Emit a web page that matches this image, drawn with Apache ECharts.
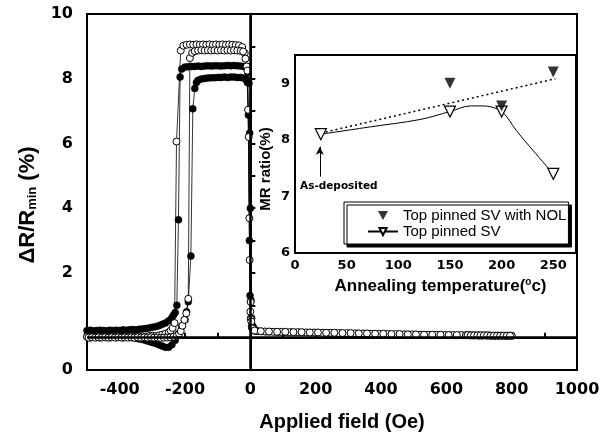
<!DOCTYPE html>
<html><head><meta charset="utf-8">
<script src="https://cdn.jsdelivr.net/npm/echarts@6/dist/echarts.min.js"></script>
<style>html,body{margin:0;padding:0;background:#fff}#c{width:611px;height:437px}</style>
</head><body><div id="c"></div>
<script>
// ---- Main panel: ΔR/Rmin (%) vs applied field (Oe) ----
const filledA = [
[-500,0.22],[-490,0.23],[-480,0.21],[-470,0.22],[-460,0.23],[-450,0.22],[-440,0.21],[-430,0.23],[-420,0.22],[-410,0.23],[-400,0.22],[-390,0.24],[-380,0.23],[-370,0.24],[-360,0.25],[-350,0.24],[-340,0.26],[-330,0.27],[-320,0.28],[-310,0.3],[-300,0.32],[-290,0.34],[-280,0.37],[-270,0.41],[-260,0.45],[-250,0.52],[-240,0.62],[-235,0.7],[-230,0.78],[-225,1.0],[-220,3.64],[-215,8.05],[-210,8.3],[-200,8.36],[-190,8.37],[-180,8.38],[-170,8.38],[-160,8.39],[-150,8.38],[-140,8.39],[-130,8.4],[-120,8.39],[-110,8.4],[-100,8.4],[-90,8.39],[-80,8.4],[-70,8.41],[-60,8.4],[-50,8.41],[-40,8.4],[-30,8.39],[-20,8.38],[-12,8.35],[-7,8.2],[-4,7.86],[-2,6.32],[0,4.0],[2,1.15],[4,0.6],[8,0.35],[14,0.25],[25,0.2],[50,0.18],[75,0.18],[100,0.17],[125,0.17],[150,0.16],[175,0.16],[200,0.15],[225,0.15],[250,0.14],[275,0.14],[300,0.13],[325,0.13],[350,0.12],[375,0.12],[400,0.11],[425,0.11],[450,0.1],[475,0.1],[500,0.09],[525,0.09],[550,0.08],[575,0.08],[600,0.08],[625,0.07],[650,0.07],[675,0.07],[700,0.06],[725,0.06],[750,0.06],[775,0.06],[800,0.05]
];
const filledB = [
[-500,0.05],[-490,0.06],[-480,0.04],[-470,0.05],[-460,0.06],[-450,0.04],[-440,0.05],[-430,0.04],[-420,0.05],[-410,0.04],[-400,0.03],[-390,0.04],[-380,0.02],[-370,0.01],[-360,0.0],[-350,-0.02],[-340,-0.04],[-330,-0.06],[-320,-0.09],[-310,-0.12],[-300,-0.15],[-290,-0.18],[-280,-0.22],[-270,-0.26],[-260,-0.3],[-250,-0.3],[-240,-0.22],[-230,-0.08],[-220,0.12],[-210,0.35],[-200,0.55],[-195,0.8],[-190,1.11],[-182,2.52],[-176,7.07],[-170,7.7],[-165,7.88],[-160,7.95],[-150,7.99],[-140,8.01],[-130,8.02],[-120,8.03],[-110,8.03],[-100,8.04],[-90,8.04],[-80,8.05],[-70,8.04],[-60,8.05],[-50,8.05],[-40,8.04],[-30,8.04],[-20,8.02],[-14,7.98],[-9,7.88],[-6,6.88],[-3,3.0],[-1,1.3],[1,0.6],[4,0.35],[9,0.28],[15,0.22],[35,0.19],[60,0.18],[85,0.17],[110,0.17],[135,0.16],[160,0.16],[185,0.15],[210,0.15],[235,0.14],[260,0.14],[285,0.13],[310,0.13],[335,0.12],[360,0.12],[385,0.11],[410,0.11],[435,0.1],[460,0.1],[485,0.1],[510,0.09],[535,0.09],[560,0.08],[585,0.08],[610,0.08],[635,0.07],[660,0.07],[685,0.07],[710,0.06],[735,0.06],[760,0.06],[785,0.05]
];
const openA = [
[-500,0.02],[-490,0.0],[-480,0.02],[-470,0.01],[-460,0.0],[-450,0.02],[-440,0.01],[-430,0.0],[-420,0.02],[-410,0.01],[-400,0.02],[-390,0.0],[-380,0.02],[-370,0.01],[-360,0.02],[-350,0.03],[-340,0.02],[-330,0.04],[-320,0.03],[-310,0.05],[-300,0.06],[-290,0.05],[-280,0.07],[-270,0.09],[-260,0.12],[-250,0.16],[-244,0.22],[-238,0.3],[-232,0.45],[-226,6.06],[-213,8.87],[-205,9.02],[-195,9.05],[-185,9.06],[-175,9.05],[-165,9.06],[-155,9.05],[-145,9.06],[-135,9.05],[-125,9.06],[-115,9.05],[-105,9.06],[-95,9.05],[-85,9.06],[-75,9.05],[-65,9.06],[-55,9.05],[-45,9.04],[-35,9.03],[-25,8.98],[-17,8.79],[-11,8.38],[-7,7.04],[-3,3.69],[0,0.8],[2,0.57],[5,0.3],[10,0.22],[20,0.2],[45,0.19],[70,0.18],[95,0.18],[120,0.17],[145,0.17],[170,0.16],[195,0.16],[220,0.15],[245,0.15],[270,0.14],[295,0.14],[320,0.13],[345,0.13],[370,0.12],[395,0.12],[420,0.11],[445,0.11],[470,0.1],[495,0.1],[520,0.09],[545,0.09],[570,0.09],[595,0.08],[620,0.08],[645,0.08],[660,0.08],[670,0.08],[680,0.07],[690,0.07],[700,0.07],[710,0.07],[720,0.07],[730,0.07],[740,0.06],[750,0.06],[760,0.06],[770,0.06],[780,0.06],[790,0.06],[800,0.06]
];
const openB = [
[-495,0.0],[-485,0.01],[-475,0.0],[-465,0.01],[-455,0.0],[-445,0.01],[-435,0.0],[-425,0.01],[-415,0.0],[-405,0.01],[-395,0.0],[-385,0.01],[-375,0.0],[-365,0.01],[-355,0.0],[-345,0.01],[-335,0.0],[-325,0.01],[-315,0.0],[-305,0.01],[-295,0.0],[-285,0.0],[-275,-0.01],[-265,0.0],[-255,0.0],[-245,0.01],[-235,0.03],[-225,0.06],[-218,0.12],[-213,0.2],[-208,0.37],[-202,0.55],[-196,0.75],[-190,1.2],[-185,8.64],[-178,8.8],[-170,8.85],[-160,8.87],[-150,8.88],[-140,8.87],[-130,8.88],[-120,8.87],[-110,8.88],[-100,8.87],[-90,8.88],[-80,8.87],[-70,8.88],[-60,8.87],[-50,8.88],[-40,8.87],[-30,8.86],[-22,8.84],[-15,8.62],[-9,8.25],[-5,6.2],[-2,2.4],[1,1.1],[3,0.5],[7,0.28],[13,0.22],[32,0.2],[57,0.19],[82,0.18],[107,0.18],[132,0.17],[157,0.17],[182,0.16],[207,0.16],[232,0.15],[257,0.15],[282,0.14],[307,0.14],[332,0.13],[357,0.13],[382,0.12],[407,0.12],[432,0.11],[457,0.11],[482,0.1],[507,0.1],[532,0.09],[557,0.09],[582,0.09],[607,0.08],[632,0.08],[665,0.08],[675,0.07],[685,0.07],[695,0.07],[705,0.07],[715,0.07],[725,0.07],[735,0.06],[745,0.06],[755,0.06],[765,0.06],[775,0.06],[785,0.06],[795,0.06]
];

// ---- Inset: MR ratio (%) vs annealing temperature (°C) ----
const annealTempNOL = [150, 200, 250];
const mrRatioNOL = [9.0, 8.6, 9.2];
const annealTempSV = [25, 150, 200, 250];
const mrRatioSV = [8.1, 8.5, 8.5, 7.4];
// guide curve drawn through the "Top pinned SV" points
const svGuideTemp = [73, 121, 170, 182, 214, 230];
const svGuideMr = [8.23, 8.36, 8.6, 8.6, 8.17, 7.82];
const trendTemp = [25, 252];
const trendMr = [8.12, 9.08];
const asDepositedTemp = 24;
const asDepositedArrowMr = [7.35, 7.88];
const seriesNames = ['Top pinned SV with NOL', 'Top pinned SV'];

const zip = (xs, ys) => xs.map((x, i) => [x, ys[i]]);
const svLineData = zip(annealTempSV, mrRatioSV).map(p => ({value: p}))
  .concat(zip(svGuideTemp, svGuideMr).map(p => ({value: p, symbol: 'none'})))
  .sort((a, b) => a.value[0] - b.value[0]);

const BLACK = '#000';
const tickFont = 'DejaVu Sans';
const titleFont = 'Liberation Sans';

const mainSeries = (data, open, extra) => Object.assign({
  type: 'line', xAxisIndex: 0, yAxisIndex: 0, data: data,
  symbol: 'circle', symbolSize: 7, showAllSymbol: true,
  itemStyle: open ? {color: '#fff', borderColor: BLACK, borderWidth: 1} : {color: BLACK, borderColor: BLACK, borderWidth: 0.5},
  lineStyle: {color: BLACK, width: 0.8}, z: open ? 4 : 3
}, extra || {});

const chart = echarts.init(document.getElementById('c'), null, {renderer: 'canvas'});
chart.setOption({
  animation: false,
  backgroundColor: '#fff',
  grid: [
    {left: 87, top: 14, right: 34, bottom: 66, show: true, borderColor: BLACK, borderWidth: 2, backgroundColor: 'transparent'},
    {left: 295, top: 55, right: 35, bottom: 184, show: true, borderColor: BLACK, borderWidth: 2, backgroundColor: '#fff', z: 5}
  ],
  xAxis: [
    {type: 'value', gridIndex: 0, min: -500, max: 1000, interval: 100,
     axisLine: {lineStyle: {color: BLACK, width: 2}},
     axisTick: {inside: true, length: 5, lineStyle: {color: BLACK, width: 2}},
     axisLabel: {formatter: v => (v % 200 === 0 ? String(v) : ''), fontFamily: tickFont, fontWeight: 'bold', fontSize: 16, color: BLACK, margin: 12},
     splitLine: {show: false},
     name: 'Applied field (Oe)', nameLocation: 'middle', nameGap: 42,
     nameTextStyle: {fontFamily: titleFont, fontWeight: 'bold', fontSize: 20, color: BLACK, padding: [0, 0, 0, 20]}},
    {type: 'value', gridIndex: 1, min: 0, max: 272, interval: 50,
     axisLine: {lineStyle: {color: BLACK, width: 2}},
     axisTick: {inside: true, length: 4, lineStyle: {color: BLACK, width: 1.5}},
     minorTick: {show: true, splitNumber: 2, length: 2, lineStyle: {color: BLACK, width: 1}},
     axisLabel: {formatter: v => (v % 50 === 0 ? String(v) : ''), fontFamily: tickFont, fontWeight: 'bold', fontSize: 13, color: BLACK, margin: 6},
     splitLine: {show: false},
     name: '{a|Annealing temperature(}{s|o}{a|c)}', nameLocation: 'middle', nameGap: 24,
     nameTextStyle: {padding: [0, 0, 0, 10], rich: {
       a: {fontFamily: titleFont, fontWeight: 'bold', fontSize: 17, color: BLACK},
       s: {fontFamily: titleFont, fontWeight: 'bold', fontSize: 10, color: BLACK, padding: [0, 0, 9, 0]}}}}
  ],
  yAxis: [
    {type: 'value', gridIndex: 0, min: -1, max: 10, interval: 1,
     axisLine: {lineStyle: {color: BLACK, width: 2}},
     axisTick: {inside: true, length: 5, lineStyle: {color: BLACK, width: 2}},
     axisLabel: {formatter: v => (v === -1 ? '0' : (v > 0 && v % 2 === 0 ? String(v) : '')), fontFamily: tickFont, fontWeight: 'bold', fontSize: 16, color: BLACK, margin: 14},
     splitLine: {show: false},
     name: '{a|ΔR/R}{s|min}{a| (%)}', nameLocation: 'middle', nameGap: 48,
     nameTextStyle: {padding: [0, 26, 0, 0], rich: {
       a: {fontFamily: titleFont, fontWeight: 'bold', fontSize: 22, color: BLACK},
       s: {fontFamily: titleFont, fontWeight: 'bold', fontSize: 13, color: BLACK, padding: [10, 0, 0, 0]}}}},
    {type: 'value', gridIndex: 1, min: 6, max: 9.5, interval: 1,
     axisLine: {lineStyle: {color: BLACK, width: 2}},
     axisTick: {inside: true, length: 4, lineStyle: {color: BLACK, width: 1.5}},
     minorTick: {show: true, splitNumber: 2, length: 2, lineStyle: {color: BLACK, width: 1}},
     axisLabel: {formatter: v => (v % 1 === 0 ? String(v) : ''), fontFamily: tickFont, fontWeight: 'bold', fontSize: 13, color: BLACK, margin: 5},
     splitLine: {show: false},
     name: 'MR ratio(%)', nameLocation: 'middle', nameGap: 22,
     nameTextStyle: {fontFamily: titleFont, fontWeight: 'bold', fontSize: 15, color: BLACK, padding: [0, 30, 0, 0]}}
  ],
  legend: {
    data: [
      {name: seriesNames[0], icon: 'path://M0,0L10,0L5,9Z'},
      {name: seriesNames[1]}
    ],
    orient: 'vertical', left: 344, top: 202,
    padding: [6, 2, 5, 23], itemGap: 1, itemWidth: 30, itemHeight: 9,
    backgroundColor: '#fff', borderColor: BLACK, borderWidth: 1,
    shadowColor: BLACK, shadowBlur: 0, shadowOffsetX: 3, shadowOffsetY: 3,
    textStyle: {fontFamily: titleFont, fontSize: 15, color: BLACK, lineHeight: 15},
    z: 20
  },
  graphic: [
    {type: 'text', left: 300, top: 181, z: 30,
     style: {text: 'As-deposited', font: 'bold 10.5px "DejaVu Sans"', fill: BLACK}}
  ],
  series: [
    mainSeries(filledA, false, {
      markLine: {silent: true, symbol: ['none', 'none'], label: {show: false},
        lineStyle: {color: BLACK, width: 2.5, type: 'solid'},
        data: [{xAxis: 0}, {yAxis: 0}]}
    }),
    mainSeries(filledB, false),
    mainSeries(openA, true),
    mainSeries(openB, true),
    {type: 'line', name: 'trend', xAxisIndex: 1, yAxisIndex: 1, data: zip(trendTemp, trendMr),
     symbol: 'none', lineStyle: {color: BLACK, width: 1.5, type: [2, 3]}, z: 6},
    {type: 'scatter', name: seriesNames[0], xAxisIndex: 1, yAxisIndex: 1, data: zip(annealTempNOL, mrRatioNOL),
     symbol: 'triangle', symbolRotate: 180, symbolSize: 11, itemStyle: {color: BLACK}, z: 8},
    {type: 'line', name: seriesNames[1], xAxisIndex: 1, yAxisIndex: 1, data: svLineData,
     smooth: 0.35, symbol: 'triangle', symbolRotate: 180, symbolSize: 11, showAllSymbol: true,
     itemStyle: {color: '#fff', borderColor: BLACK, borderWidth: 1.2},
     lineStyle: {color: BLACK, width: 1}, z: 7,
     markLine: {silent: true, symbol: ['none', 'arrow'], symbolSize: [6, 8], label: {show: false},
       lineStyle: {color: BLACK, width: 1, type: 'solid'},
       data: [[{coord: [asDepositedTemp, asDepositedArrowMr[0]]}, {coord: [asDepositedTemp, asDepositedArrowMr[1]]}]]}}
  ]
});
</script>
</body></html>
